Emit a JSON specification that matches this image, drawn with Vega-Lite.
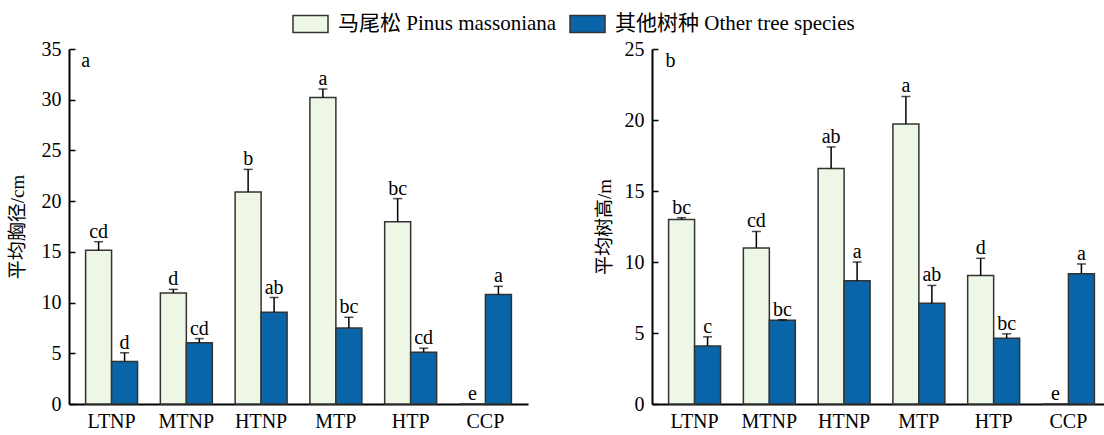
{
  "$schema": "https://vega.github.io/schema/vega-lite/v6.json",
  "padding": {"left": 8, "top": 5, "right": 0, "bottom": 0},
  "background": "white",
  "config": {
    "font": "Liberation Serif, Noto Sans CJK SC",
    "view": {"stroke": null},
    "concat": {"spacing": 67},
    "axis": {"labelFont": "Liberation Serif, Noto Sans CJK SC", "titleFont": "Liberation Serif, Noto Sans CJK SC", "labelColor": "black", "titleColor": "black", "domainColor": "black", "tickColor": "black", "domainWidth": 2, "tickWidth": 1.5, "grid": false, "labelFontSize": 20, "titleFontSize": 19, "titleFontWeight": "normal"},
    "legend": {"labelFont": "Liberation Serif, Noto Sans CJK SC", "labelFontSize": 21, "labelColor": "black", "labelLimit": 0},
    "text": {"font": "Liberation Serif", "fontSize": 20, "color": "black"}
  },
  "datasets": {
    "dbh": [
      {"site": "LTNP", "species": "马尾松 Pinus massoniana", "value": 15.15, "upper": 16.0, "letter": "cd"},
      {"site": "LTNP", "species": "其他树种 Other tree species", "value": 4.2, "upper": 5.05, "letter": "d"},
      {"site": "MTNP", "species": "马尾松 Pinus massoniana", "value": 10.95, "upper": 11.3, "letter": "d"},
      {"site": "MTNP", "species": "其他树种 Other tree species", "value": 6.05, "upper": 6.45, "letter": "cd"},
      {"site": "HTNP", "species": "马尾松 Pinus massoniana", "value": 20.9, "upper": 23.13, "letter": "b"},
      {"site": "HTNP", "species": "其他树种 Other tree species", "value": 9.05, "upper": 10.5, "letter": "ab"},
      {"site": "MTP", "species": "马尾松 Pinus massoniana", "value": 30.23, "upper": 31.06, "letter": "a"},
      {"site": "MTP", "species": "其他树种 Other tree species", "value": 7.5, "upper": 8.55, "letter": "bc"},
      {"site": "HTP", "species": "马尾松 Pinus massoniana", "value": 17.97, "upper": 20.25, "letter": "bc"},
      {"site": "HTP", "species": "其他树种 Other tree species", "value": 5.1, "upper": 5.5, "letter": "cd"},
      {"site": "CCP", "species": "马尾松 Pinus massoniana", "value": 0, "upper": 0, "letter": "e"},
      {"site": "CCP", "species": "其他树种 Other tree species", "value": 10.8, "upper": 11.6, "letter": "a"}
    ],
    "height": [
      {"site": "LTNP", "species": "马尾松 Pinus massoniana", "value": 13.0, "upper": 13.12, "letter": "bc"},
      {"site": "LTNP", "species": "其他树种 Other tree species", "value": 4.09, "upper": 4.73, "letter": "c"},
      {"site": "MTNP", "species": "马尾松 Pinus massoniana", "value": 10.99, "upper": 12.15, "letter": "cd"},
      {"site": "MTNP", "species": "其他树种 Other tree species", "value": 5.89, "upper": 5.94, "letter": "bc"},
      {"site": "HTNP", "species": "马尾松 Pinus massoniana", "value": 16.58, "upper": 18.1, "letter": "ab"},
      {"site": "HTNP", "species": "其他树种 Other tree species", "value": 8.68, "upper": 10.0, "letter": "a"},
      {"site": "MTP", "species": "马尾松 Pinus massoniana", "value": 19.72, "upper": 21.66, "letter": "a"},
      {"site": "MTP", "species": "其他树种 Other tree species", "value": 7.09, "upper": 8.35, "letter": "ab"},
      {"site": "HTP", "species": "马尾松 Pinus massoniana", "value": 9.05, "upper": 10.26, "letter": "d"},
      {"site": "HTP", "species": "其他树种 Other tree species", "value": 4.63, "upper": 4.94, "letter": "bc"},
      {"site": "CCP", "species": "马尾松 Pinus massoniana", "value": 0, "upper": 0, "letter": "e"},
      {"site": "CCP", "species": "其他树种 Other tree species", "value": 9.17, "upper": 9.86, "letter": "a"}
    ]
  },
  "hconcat": [
    {
      "data": {"name": "dbh"},
      "width": 459,
      "height": 355,
      "encoding": {
        "x": {"field": "site", "type": "nominal", "sort": ["LTNP", "MTNP", "HTNP", "MTP", "HTP", "CCP"], "scale": {"paddingInner": 0.305, "paddingOuter": 0.222}, "axis": {"title": null, "labelAngle": 0, "ticks": false, "labelPadding": 7}},
        "xOffset": {"field": "species", "type": "nominal", "sort": ["马尾松 Pinus massoniana", "其他树种 Other tree species"], "scale": {"paddingInner": 0, "paddingOuter": 0}}
      },
      "layer": [
        {
          "mark": {"type": "bar", "stroke": "#333333", "strokeWidth": 1.5},
          "encoding": {
            "y": {"field": "value", "type": "quantitative", "scale": {"domain": [0, 35], "nice": false, "zero": true}, "axis": {"title": "平均胸径/cm", "values": [0, 5, 10, 15, 20, 25, 30, 35], "tickSize": -6, "labelPadding": 14, "titlePadding": 14}},
            "fill": {"field": "species", "type": "nominal", "sort": ["马尾松 Pinus massoniana", "其他树种 Other tree species"], "scale": {"domain": ["马尾松 Pinus massoniana", "其他树种 Other tree species"], "range": ["#EEF6E6", "#0A64A8"]}, "legend": {"title": null, "orient": "none", "legendX": 223, "legendY": -44, "direction": "horizontal", "symbolType": "M-1,-0.486L1,-0.486L1,0.486L-1,0.486Z", "symbolSize": 1225, "symbolStrokeColor": "#222222", "symbolStrokeWidth": 1.5, "columnPadding": 10, "labelOffset": 9}}
          }
        },
        {
          "transform": [{"filter": "datum.upper > datum.value"}],
          "mark": {"type": "rule", "color": "black", "strokeWidth": 1.5},
          "encoding": {"y": {"field": "value", "type": "quantitative", "scale": {"domain": [0, 35], "nice": false}}, "y2": {"field": "upper"}}
        },
        {
          "transform": [{"filter": "datum.upper > datum.value"}],
          "mark": {"type": "tick", "color": "black", "orient": "horizontal", "size": 9, "thickness": 1.5},
          "encoding": {"y": {"field": "upper", "type": "quantitative", "scale": {"domain": [0, 35], "nice": false}}}
        },
        {
          "mark": {"type": "text", "baseline": "alphabetic", "dy": -4},
          "encoding": {"y": {"field": "upper", "type": "quantitative", "scale": {"domain": [0, 35], "nice": false}}, "text": {"field": "letter"}}
        },
        {
          "data": {"values": [{"panel": "a"}]},
          "mark": {"type": "text", "baseline": "alphabetic", "dx": -13, "dy": 18},
          "encoding": {"x": {"datum": "LTNP"}, "xOffset": {"datum": "马尾松 Pinus massoniana"}, "y": {"datum": 35, "scale": {"domain": [0, 35], "nice": false}}, "text": {"field": "panel"}}
        }
      ]
    },
    {
      "data": {"name": "height"},
      "width": 459,
      "height": 355,
      "encoding": {
        "x": {"field": "site", "type": "nominal", "sort": ["LTNP", "MTNP", "HTNP", "MTP", "HTP", "CCP"], "scale": {"paddingInner": 0.305, "paddingOuter": 0.222}, "axis": {"title": null, "labelAngle": 0, "ticks": false, "labelPadding": 7}},
        "xOffset": {"field": "species", "type": "nominal", "sort": ["马尾松 Pinus massoniana", "其他树种 Other tree species"], "scale": {"paddingInner": 0, "paddingOuter": 0}}
      },
      "layer": [
        {
          "mark": {"type": "bar", "stroke": "#333333", "strokeWidth": 1.5},
          "encoding": {
            "y": {"field": "value", "type": "quantitative", "scale": {"domain": [0, 25], "nice": false, "zero": true}, "axis": {"title": "平均树高/m", "values": [0, 5, 10, 15, 20, 25], "tickSize": -6, "labelPadding": 14, "titlePadding": 10}},
            "fill": {"field": "species", "type": "nominal", "sort": ["马尾松 Pinus massoniana", "其他树种 Other tree species"], "scale": {"domain": ["马尾松 Pinus massoniana", "其他树种 Other tree species"], "range": ["#EEF6E6", "#0A64A8"]}}
          }
        },
        {
          "transform": [{"filter": "datum.upper > datum.value"}],
          "mark": {"type": "rule", "color": "black", "strokeWidth": 1.5},
          "encoding": {"y": {"field": "value", "type": "quantitative", "scale": {"domain": [0, 25], "nice": false}}, "y2": {"field": "upper"}}
        },
        {
          "transform": [{"filter": "datum.upper > datum.value"}],
          "mark": {"type": "tick", "color": "black", "orient": "horizontal", "size": 9, "thickness": 1.5},
          "encoding": {"y": {"field": "upper", "type": "quantitative", "scale": {"domain": [0, 25], "nice": false}}}
        },
        {
          "mark": {"type": "text", "baseline": "alphabetic", "dy": -4},
          "encoding": {"y": {"field": "upper", "type": "quantitative", "scale": {"domain": [0, 25], "nice": false}}, "text": {"field": "letter"}}
        },
        {
          "data": {"values": [{"panel": "b"}]},
          "mark": {"type": "text", "baseline": "alphabetic", "dx": -11, "dy": 18},
          "encoding": {"x": {"datum": "LTNP"}, "xOffset": {"datum": "马尾松 Pinus massoniana"}, "y": {"datum": 25, "scale": {"domain": [0, 25], "nice": false}}, "text": {"field": "panel"}}
        }
      ]
    }
  ]
}
